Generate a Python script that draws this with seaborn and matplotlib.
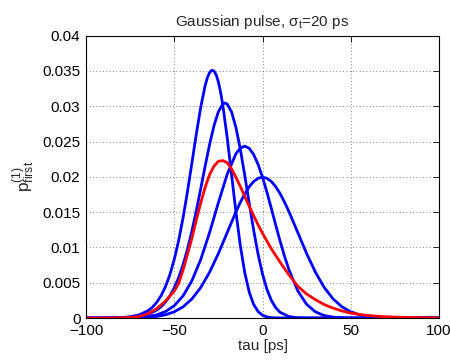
import matplotlib
matplotlib.use("Agg")
import matplotlib.pyplot as plt
import numpy as np
import pandas as pd
import seaborn as sns

# ---------------- data ----------------
tau_n1 = [-100, -90, -80, -75, -70, -65, -60, -55, -50, -45, -40, -35, -30, -25, -20, -15,
          -12.5, -10, -7.5, -5, -2.5, 0, 2.5, 5, 7.5, 10, 12.5,
          15, 20, 25, 30, 35, 40, 45, 50, 55, 60, 65, 70, 75, 80, 90, 100]
p_n1 = [0, 0.0000002, 0.0000067, 0.0000177, 0.0000437, 0.000102, 0.000222, 0.000455, 0.000877,
        0.001587, 0.0027, 0.004314, 0.006476, 0.009133, 0.012099, 0.015057,
        0.016408, 0.017604, 0.018593, 0.019334, 0.019792, 0.019947, 0.019792, 0.019334, 0.018593,
        0.017604, 0.016408,
        0.015057, 0.012099, 0.009133, 0.006476, 0.004314, 0.0027, 0.001587, 0.000877, 0.000455,
        0.000222, 0.000102, 0.0000437, 0.0000177, 0.0000067, 0.0000002, 0]

tau_n2 = [-100, -90, -80, -75, -70, -65, -60, -55, -50, -45, -40, -35, -30, -25, -20, -15,
          -12.5, -10, -7.5, -5, -2.5, 0, 2.5, 5, 7.5, 10, 12.5, 15, 20, 25, 30, 35, 40, 45, 50, 60, 100]
p_n2 = [0, 0.0000003, 0.0000134, 0.0000353, 0.0000873, 0.000203, 0.000442, 0.000906, 0.001742,
        0.003135, 0.005276, 0.008282, 0.012087, 0.016335, 0.020358, 0.023289,
        0.024087, 0.024344, 0.024029, 0.02315, 0.021761, 0.019947, 0.017823, 0.015517, 0.013158,
        0.010863, 0.008729, 0.006825, 0.003839, 0.00193, 0.000865, 0.000346, 0.000123, 0.0000388,
        0.0000109, 0.0000005, 0]

tau_n5 = [-100, -90, -80, -75, -70, -65, -60, -57.5, -55, -52.5, -50, -47.5, -45, -42.5, -40,
          -37.5, -35, -32.5, -30, -27.5, -25, -22.5, -21.25, -20, -17.5, -15, -12.5, -10, -7.5,
          -5, -2.5, 0, 2.5, 5, 7.5, 10, 15, 20, 25, 30, 100]
p_n5 = [0, 0.000004, 0.0000335, 0.0000882, 0.000218, 0.000506, 0.0011015, 0.001587, 0.0022455,
        0.003126, 0.004275, 0.005737, 0.007554, 0.009747, 0.012311,
        0.0152, 0.018316, 0.021505, 0.024555, 0.027216, 0.029215, 0.030307, 0.03045, 0.030309,
        0.029164, 0.026931, 0.023814, 0.020122, 0.016207,
        0.012421, 0.009036, 0.006233, 0.004066, 0.002507, 0.001457, 0.000798, 0.000199,
        0.0000383, 0.0000057, 0, 0]

tau_n10 = [-100, -90, -80, -75, -70, -65, -62.5, -60, -57.5, -55, -52.5, -50, -47.5, -45, -42.5,
           -40, -37.5, -35, -32.5, -31.25, -30, -28.75, -27.5, -26.25, -25, -23.75, -22.5, -20,
           -17.5, -15, -12.5, -10, -7.5, -5, -2.5, 0, 2.5, 5, 10, 15, 100]
p_n10 = [0, 0.000008, 0.000067, 0.0001764, 0.0004356, 0.0010097, 0.0014995, 0.0021882, 0.0031413,
         0.0044246, 0.0061183, 0.0082871, 0.0109791, 0.0142075, 0.0179112,
         0.0219451, 0.0260504, 0.0298572, 0.0329161, 0.034017, 0.0347567, 0.035093, 0.0349927,
         0.034441, 0.0334314, 0.031996, 0.0301622, 0.0255534,
         0.0202386, 0.0149019, 0.0101494, 0.0063607, 0.0036504, 0.0019102, 0.0009075, 0.0003896,
         0.0001505, 0.0000522, 0.0000045, 0, 0]

tau_red = [-100, -90, -80, -75, -70, -65, -60, -55, -50, -47.5, -45, -42.5, -40, -37.5, -35,
           -32.5, -30, -27.5, -25, -22.5, -20, -17.5, -15, -12.5, -10, -7.5, -5, -2.5, 0, 5,
           10, 15, 20, 25, 30, 35, 40, 45, 50, 55, 60, 65, 70, 80, 90, 100]
p_red = [0, 0.000002, 0.00003, 0.00008, 0.0002, 0.0006, 0.0013, 0.0024, 0.0038, 0.0049, 0.0068,
         0.0090, 0.0113, 0.0139, 0.0163,
         0.0185, 0.0203, 0.0215, 0.0222, 0.0223, 0.0220, 0.0211, 0.0199, 0.0186, 0.0172, 0.0158,
         0.0145, 0.0132, 0.0120, 0.0098,
         0.0079, 0.0061, 0.0045, 0.0034, 0.0026, 0.0019, 0.0014, 0.0010, 0.0007, 0.0005, 0.00035,
         0.00025, 0.00018, 0.00009, 0.00004, 0.00002]

xticks = [-100, -50, 0, 50, 100]
yticks = [0, 0.005, 0.01, 0.015, 0.02, 0.025, 0.03, 0.035, 0.04]
ytick_labels = ["0", "0.005", "0.01", "0.015", "0.02", "0.025", "0.03", "0.035", "0.04"]

# ---------------- build table ----------------
frames = []
for name, t, p in [("N1", tau_n1, p_n1), ("N2", tau_n2, p_n2), ("N5", tau_n5, p_n5),
                   ("N10", tau_n10, p_n10), ("red", tau_red, p_red)]:
    frames.append(pd.DataFrame({"tau": t, "p": p, "series": name}))
df = pd.concat(frames, ignore_index=True)

# ---------------- style ----------------
sns.set_style("white")
plt.rcParams["font.family"] = ["Liberation Sans", "DejaVu Sans"]
plt.rcParams["mathtext.fontset"] = "custom"
plt.rcParams["mathtext.rm"] = "Liberation Sans"
plt.rcParams["mathtext.it"] = "Liberation Sans:italic"
plt.rcParams["axes.unicode_minus"] = True

fig = plt.figure(figsize=(4.5, 3.62), dpi=100)
fig.patch.set_facecolor("white")
ax = fig.add_axes([86 / 450, 44 / 362, 353 / 450, 282.4 / 362])

order = ["N1", "N2", "N5", "N10", "red"]
palette = {"N1": "#0000ff", "N2": "#0000ff", "N5": "#0000ff", "N10": "#0000ff", "red": "#ff0000"}
sns.lineplot(data=df, x="tau", y="p", hue="series", hue_order=order, palette=palette,
             estimator=None, sort=False, linewidth=2.0, legend=False, ax=ax)

ax.set_xlim(-100, 100)
ax.set_ylim(0, 0.04)
ax.set_xticks(xticks)
ax.set_yticks(yticks)
ax.set_yticklabels(ytick_labels)
ax.tick_params(direction="in", top=True, right=True, length=4, width=0.6,
               labelsize=11, pad=4, colors="black")
ax.grid(True, linestyle=(0, (1, 3)), color="#555555", linewidth=0.6)
for sp in ax.spines.values():
    sp.set_visible(True)
    sp.set_color("black")
    sp.set_linewidth(0.8)

ax.set_xlabel("tau [ps]", fontsize=11, labelpad=1)
ax.set_ylabel(r"p$^{(1)}_{\mathrm{first}}$", fontsize=12.5, labelpad=4)
ax.set_title(r"Gaussian pulse, σ$_{\mathrm{t}}$=20 ps", fontsize=11, pad=7)

fig.savefig("out.png", dpi=100, facecolor="white")
